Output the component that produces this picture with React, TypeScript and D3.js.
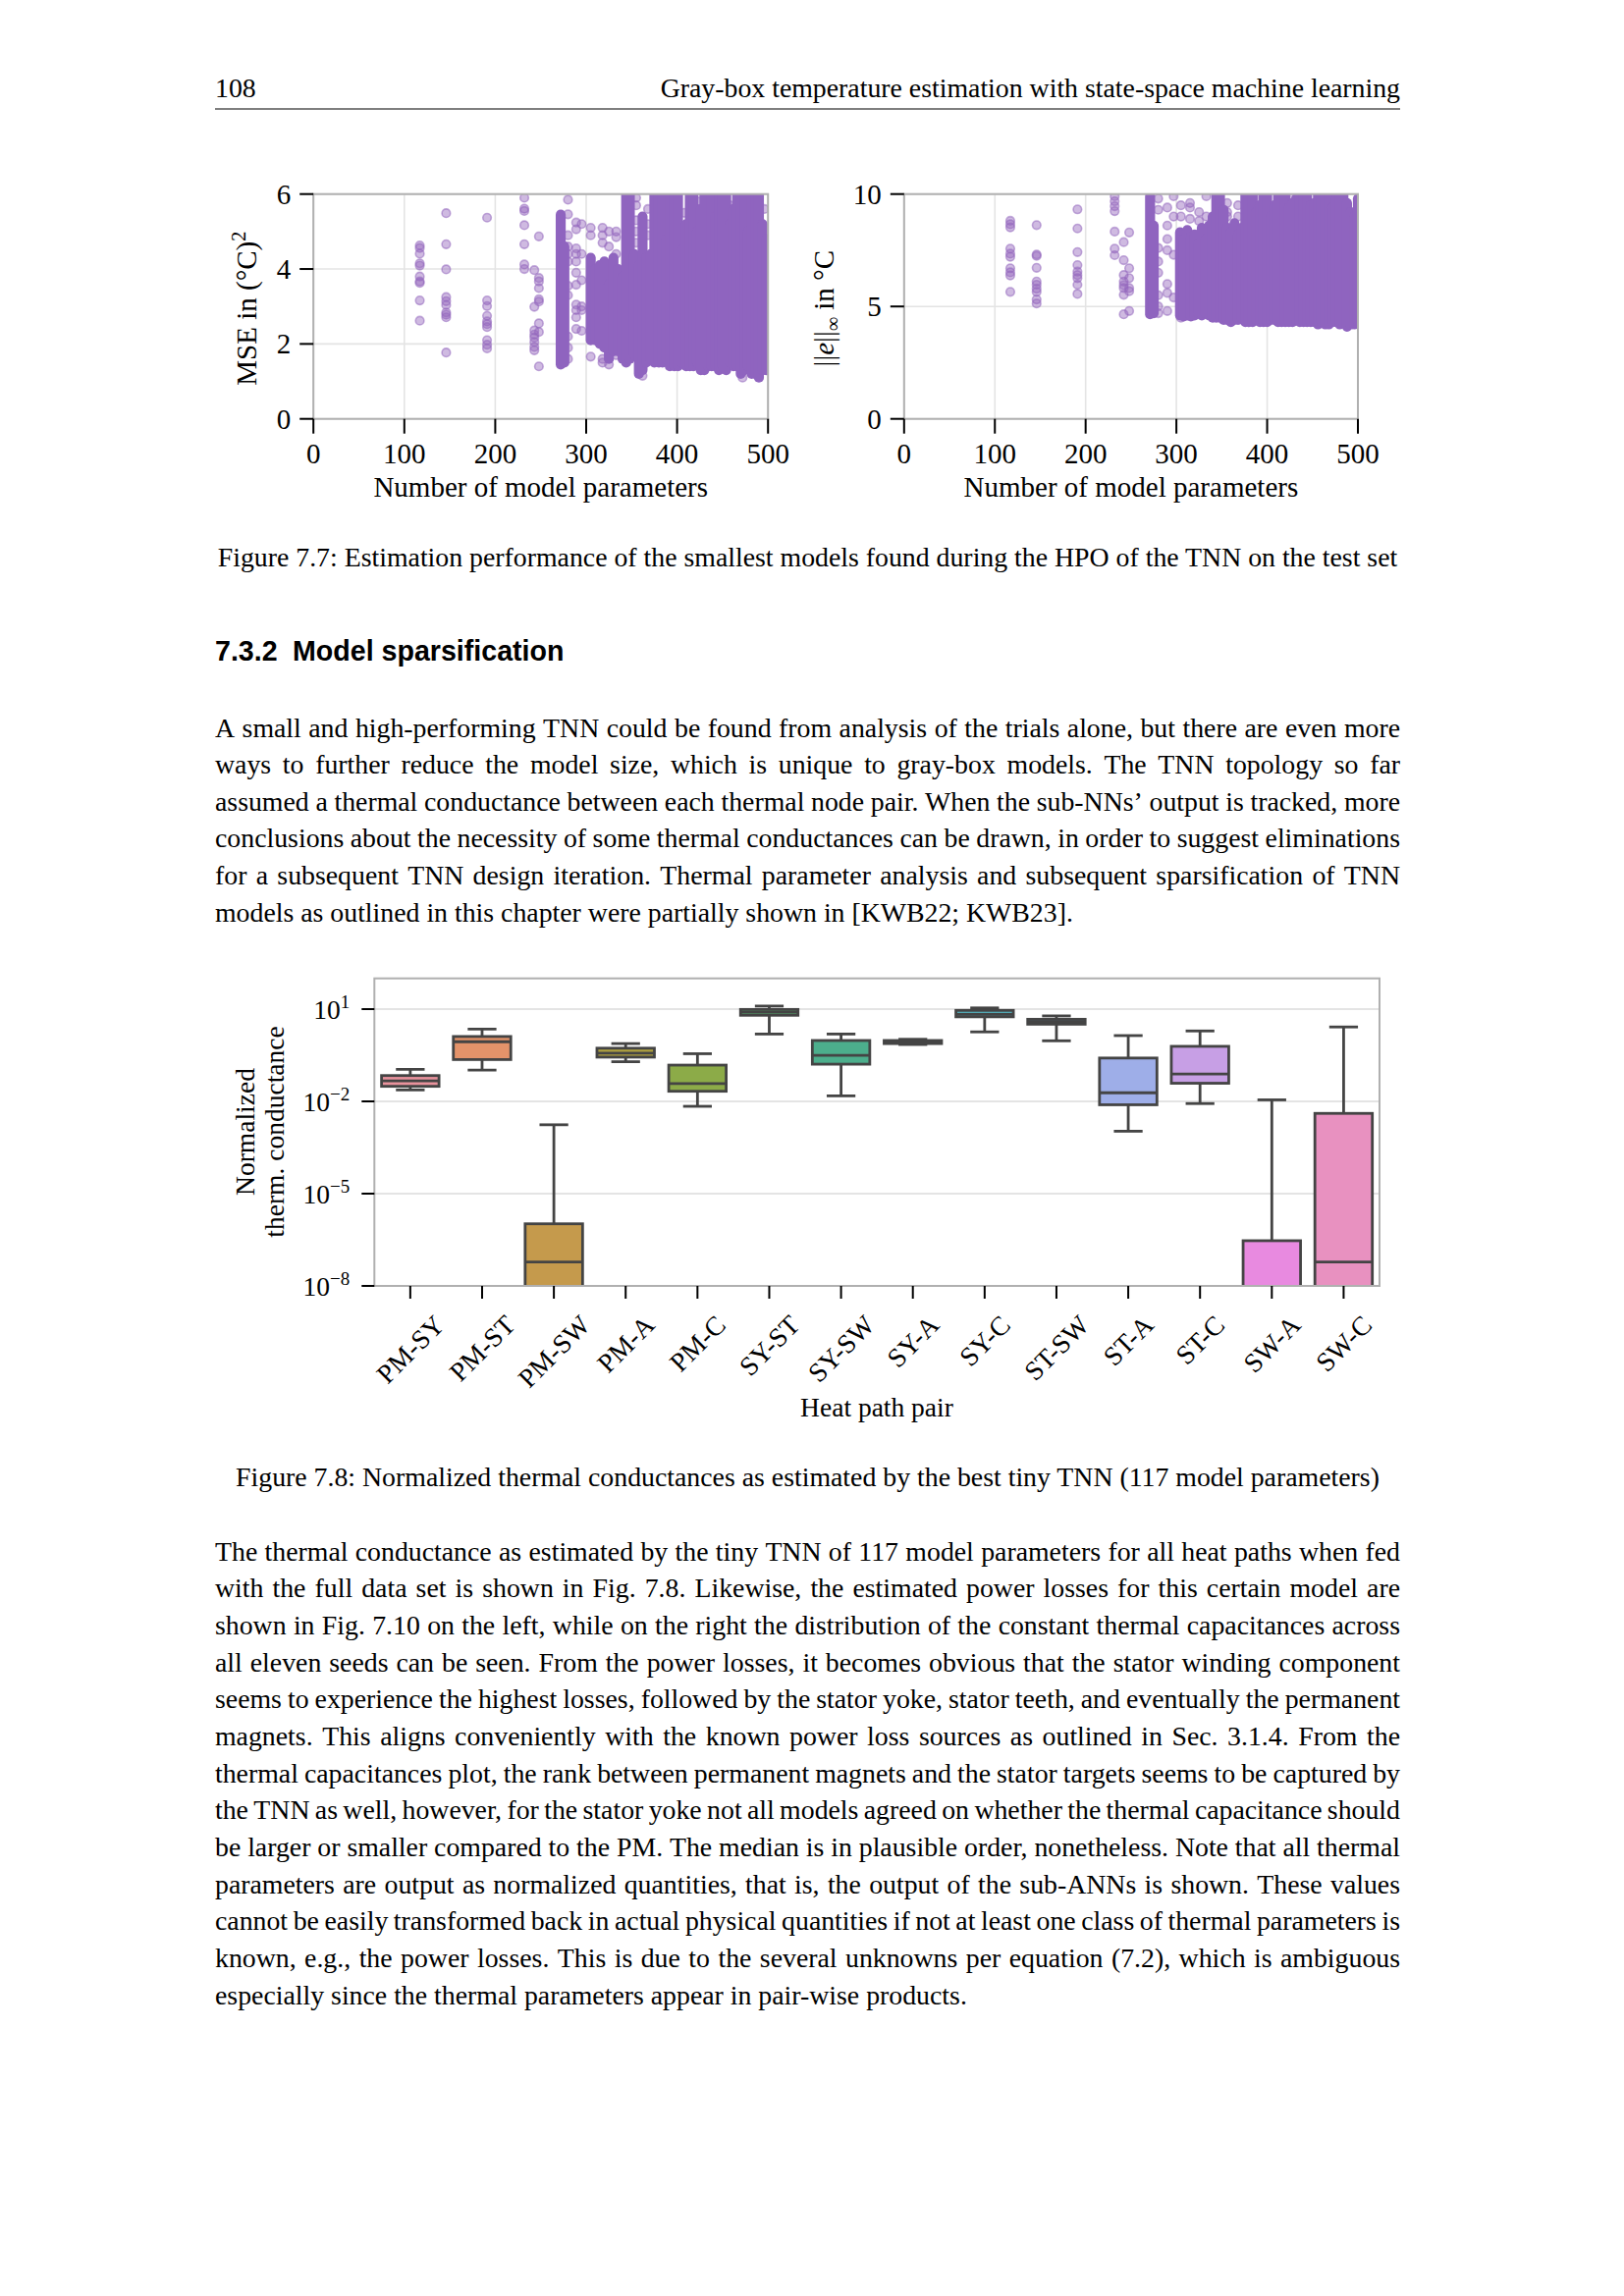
import React from 'react';
import * as d3 from 'd3';

const SERIF = "'Liberation Serif', 'Times New Roman', serif";
const SANS = "'Liberation Sans', Arial, sans-serif";

// ---------- page text ----------
const pageNumber = '108';
const runningHead = 'Gray-box temperature estimation with state-space machine learning';
const caption77 = 'Figure 7.7: Estimation performance of the smallest models found during the HPO of the TNN on the test set';
const sectionNumber = '7.3.2';
const sectionTitle = 'Model sparsification';
const para1 = [
  'A small and high-performing TNN could be found from analysis of the trials alone, but there are even more',
  'ways to further reduce the model size, which is unique to gray-box models. The TNN topology so far',
  'assumed a thermal conductance between each thermal node pair. When the sub-NNs\u2019 output is tracked, more',
  'conclusions about the necessity of some thermal conductances can be drawn, in order to suggest eliminations',
  'for a subsequent TNN design iteration. Thermal parameter analysis and subsequent sparsification of TNN',
  'models as outlined in this chapter were partially shown in [KWB22; KWB23].',
];
const caption78 = 'Figure 7.8: Normalized thermal conductances as estimated by the best tiny TNN (117 model parameters)';
const para2 = [
  'The thermal conductance as estimated by the tiny TNN of 117 model parameters for all heat paths when fed',
  'with the full data set is shown in Fig. 7.8. Likewise, the estimated power losses for this certain model are',
  'shown in Fig. 7.10 on the left, while on the right the distribution of the constant thermal capacitances across',
  'all eleven seeds can be seen. From the power losses, it becomes obvious that the stator winding component',
  'seems to experience the highest losses, followed by the stator yoke, stator teeth, and eventually the permanent',
  'magnets. This aligns conveniently with the known power loss sources as outlined in Sec. 3.1.4. From the',
  'thermal capacitances plot, the rank between permanent magnets and the stator targets seems to be captured by',
  'the TNN as well, however, for the stator yoke not all models agreed on whether the thermal capacitance should',
  'be larger or smaller compared to the PM. The median is in plausible order, nonetheless. Note that all thermal',
  'parameters are output as normalized quantities, that is, the output of the sub-ANNs is shown. These values',
  'cannot be easily transformed back in actual physical quantities if not at least one class of thermal parameters is',
  'known, e.g., the power losses. This is due to the several unknowns per equation (7.2), which is ambiguous',
  'especially since the thermal parameters appear in pair-wise products.',
];

// ---------- scatter data ----------
const xTicks = [0, 100, 200, 300, 400, 500];
const mseTicks = [0, 2, 4, 6];
const einfTicks = [0, 5, 10];

// individual (sparse) points: [number of parameters, values]
const mseSparse: [number, number[]][] = [
  [117, [4.63, 4.56, 4.41, 4.15, 4.09, 3.8, 3.67, 3.63, 3.16, 2.62]],
  [146, [5.49, 4.66, 3.99, 3.25, 3.14, 3.04, 2.84, 2.78, 2.71, 1.77]],
  [191, [5.37, 3.16, 3.01, 2.75, 2.6, 2.53, 2.45, 2.1, 1.98, 1.88]],
  [232, [5.9, 5.61, 5.55, 5.17, 4.66, 4.12, 4.0]],
  [243, [3.97, 2.99, 2.36, 2.25, 2.17, 2.05, 1.92, 1.83]],
  [248, [4.87, 3.76, 3.67, 3.49, 3.19, 3.13, 2.55, 2.32, 1.4]],
  [280, [5.85, 5.46, 4.9, 4.6, 4.4, 4.2, 3.55, 3.3, 2.2, 1.9, 1.6]],
  [289, [5.24, 5.06, 4.55, 4.4, 4.2, 3.9, 3.58, 3.05, 2.9, 2.71, 2.4]],
  [295, [5.2, 4.4, 3.7, 3.0, 2.9, 2.35]],
  [305, [5.1, 4.9, 1.66]],
  [318, [5.1, 4.9, 4.7, 1.6, 1.5]],
  [325, [5.0, 4.6, 1.45]],
  [333, [5.0, 4.85, 4.4, 1.7]],
  [355, [5.9, 5.7, 5.3, 5.0, 4.7]],
  [362, [1.15]],
  [368, [5.6, 5.2, 4.9]],
  [387, [5.8, 5.3]],
  [408, [5.5, 5.1]],
  [423, [5.8, 5.3]],
  [440, [5.7]],
  [458, [5.7, 5.4]],
  [472, [1.1]],
  [478, [5.6]],
  [496, [5.6]],
];
// densely overplotted columns: [number of parameters, lowest, highest]
const mseDense: [number, number, number][] = [
  [272, 1.45, 5.45], [276, 1.5, 4.6],
  [305, 2.1, 4.3], [310, 2.1, 4.0], [315, 2.0, 4.1], [320, 1.9, 4.2], [325, 1.6, 3.6],
  [330, 1.8, 4.3], [335, 1.8, 4.0], [340, 1.6, 3.8], [344, 1.5, 6.0], [348, 1.6, 6.0],
  [353, 1.7, 4.4], [358, 1.2, 4.1], [362, 1.3, 5.4], [366, 1.5, 4.3], [371, 1.6, 4.4],
  [375, 1.5, 6.0], [380, 1.5, 6.0], [384, 1.5, 6.0], [388, 1.6, 4.8], [392, 1.4, 6.0],
  [397, 1.4, 6.0], [401, 1.4, 6.0], [405, 1.5, 4.5], [410, 1.4, 5.2], [414, 1.4, 6.0],
  [418, 1.4, 6.0], [422, 1.5, 5.0], [426, 1.3, 5.6], [430, 1.3, 6.0], [434, 1.4, 6.0],
  [438, 1.4, 6.0], [442, 1.4, 5.4], [446, 1.3, 6.0], [450, 1.4, 6.0], [454, 1.3, 6.0],
  [458, 1.5, 5.2], [462, 1.4, 5.6], [466, 1.4, 6.0], [470, 1.2, 6.0], [474, 1.3, 6.0],
  [478, 1.4, 5.0], [482, 1.2, 6.0], [486, 1.2, 6.0], [490, 1.1, 6.0], [494, 1.3, 5.2],
  [498, 1.3, 4.8],
];

const einfSparse: [number, number[]][] = [
  [117, [8.81, 8.66, 8.52, 7.57, 7.35, 7.21, 6.7, 6.52, 6.38, 5.65]],
  [146, [8.62, 7.31, 7.25, 6.72, 6.11, 5.97, 5.79, 5.65, 5.31, 5.13]],
  [191, [9.32, 8.47, 7.42, 6.84, 6.55, 6.4, 6.26, 5.97, 5.56]],
  [232, [9.9, 9.68, 9.46, 9.24, 8.33, 7.57, 7.28]],
  [242, [7.86, 7.06, 6.4, 6.11, 5.95, 5.82, 5.52, 4.65]],
  [248, [8.29, 6.7, 6.26, 5.82, 5.68, 4.8]],
  [280, [9.8, 9.3, 7.6, 7.0, 6.5, 5.5, 5.0, 4.7]],
  [290, [9.4, 8.6, 8.0, 7.5, 6.0, 5.6, 4.8]],
  [297, [9.9, 9.0, 7.3, 5.4]],
  [305, [9.5, 9.0, 4.5]],
  [315, [9.6, 9.4, 8.9]],
  [325, [9.2, 8.8]],
  [333, [9.9, 9.0]],
  [356, [9.6, 9.2, 9.0]],
  [368, [9.5, 9.0]],
  [390, [9.8]],
  [426, [9.9]],
  [474, [9.8]],
];
const einfDense: [number, number, number][] = [
  [271, 4.65, 9.9], [275, 4.7, 8.6],
  [304, 4.6, 8.3], [308, 4.55, 8.0], [312, 4.6, 8.4], [316, 4.55, 8.1], [320, 4.6, 8.2],
  [324, 4.7, 7.8], [328, 4.6, 8.5], [332, 4.7, 8.0], [336, 4.6, 8.6], [340, 4.5, 9.0],
  [344, 4.5, 10], [348, 4.5, 10], [352, 4.4, 9.3], [356, 4.4, 8.5], [360, 4.3, 8.3],
  [364, 4.4, 8.7], [368, 4.4, 8.2], [372, 4.5, 8.5], [376, 4.3, 10], [380, 4.3, 10],
  [384, 4.3, 10], [388, 4.4, 9.2], [392, 4.3, 9.5], [396, 4.3, 10], [400, 4.3, 10],
  [404, 4.4, 9.0], [408, 4.4, 9.5], [412, 4.3, 10], [416, 4.3, 10], [420, 4.3, 10],
  [424, 4.3, 9.4], [428, 4.3, 9.6], [432, 4.4, 9.8], [436, 4.3, 10], [440, 4.3, 10],
  [444, 4.3, 10], [448, 4.3, 9.5], [452, 4.3, 9.6], [456, 4.2, 10], [460, 4.3, 10],
  [464, 4.2, 10], [468, 4.2, 10], [472, 4.3, 9.4], [476, 4.3, 9.8], [480, 4.2, 10],
  [484, 4.3, 10], [488, 4.1, 9.6], [492, 4.2, 9.2], [496, 4.2, 9.0], [500, 4.3, 9.8],
];

// ---------- box plot data (log10 of normalized conductance) ----------
const categories = ['PM-SY', 'PM-ST', 'PM-SW', 'PM-A', 'PM-C', 'SY-ST', 'SY-SW', 'SY-A', 'SY-C', 'ST-SW', 'ST-A', 'ST-C', 'SW-A', 'SW-C'];
const whiskerLowLog = [-1.63, -0.98, -11, -0.71, -2.16, 0.19, -1.82, -0.15, 0.26, -0.03, -2.97, -2.07, -11, -11];
const q1Log = [-1.51, -0.64, -10, -0.56, -1.67, 0.8, -0.79, -0.12, 0.75, 0.51, -2.11, -1.41, -10, -10];
const medianLog = [-1.33, -0.06, -7.22, -0.43, -1.42, 0.9, -0.5, -0.07, 0.83, 0.6, -1.72, -1.11, -9, -7.22];
const q3Log = [-1.16, 0.11, -5.98, -0.27, -0.82, 0.99, -0.02, -0.02, 0.96, 0.67, -0.59, -0.21, -6.53, -2.39];
const whiskerHighLog = [-0.96, 0.35, -2.76, -0.12, -0.45, 1.1, 0.19, 0.02, 1.04, 0.78, 0.14, 0.29, -1.95, 0.42];
const boxColors = ['#e8929c', '#e4936a', '#c59a4c', '#b0a23f', '#8cab48', '#55b06c', '#4cae8c', '#4eab9f', '#52a8b3', '#58a3c6', '#9eaee8', '#c79fe5', '#e88ae0', '#e891c0'];
const boxYTicks = [1e1, 1e-2, 1e-5, 1e-8];
const boxYTickExp = ['1', '\u22122', '\u22125', '\u22128'];

// ---------- helpers ----------
let _ctx: CanvasRenderingContext2D | null = null;
function measure(text: string, font: string): number {
  if (!_ctx) _ctx = document.createElement('canvas').getContext('2d');
  _ctx!.font = font;
  return _ctx!.measureText(text).width;
}

const BODY = 27.8;
const LEFT = 219;
const RIGHT = 1426;
const LINE = 37.65;

function TextLine({ text, x, y, width, justify, size = BODY, family = SERIF, fontFamilyCanvas = "'Liberation Serif'", weight = 'normal' }: any) {
  const font = `${weight} ${size}px ${fontFamilyCanvas}`;
  const words = text.split(' ');
  const ww = words.map((w: string) => measure(w, font));
  const sw = measure(' ', font);
  const total = ww.reduce((a: number, b: number) => a + b, 0);
  const gap = justify && words.length > 1 ? (width - total) / (words.length - 1) : sw;
  let cx = x;
  const spans = words.map((w: string, i: number) => {
    const sx = cx;
    cx += ww[i] + gap;
    return <tspan key={i} x={sx}>{w}</tspan>;
  });
  return <text y={y} fontFamily={family} fontSize={size} fontWeight={weight} fill="#000">{spans}</text>;
}

function Paragraph({ lines, y0 }: { lines: string[]; y0: number }) {
  return (
    <g>
      {lines.map((l, i) => (
        <TextLine key={i} text={l} x={LEFT} y={y0 + i * LINE} width={RIGHT - LEFT} justify={i < lines.length - 1} />
      ))}
    </g>
  );
}

const SPINE = '#b0b0b0';
const GRID = '#e4e4e4';
const PURPLE = '#9467bd';

function Scatter({ id, left, right, top, bottom, yMax, yTicks, sparse, dense, yLabel, yLabelX }: any) {
  const x = d3.scaleLinear().domain([0, 500]).range([left, right]);
  const y = d3.scaleLinear().domain([0, yMax]).range([bottom, top]);
  const r = 4.3;
  const cx = (left + right) / 2;
  return (
    <g>
      <defs>
        <clipPath id={id}>
          <rect x={left} y={top} width={right - left} height={bottom - top} />
        </clipPath>
      </defs>
      {xTicks.map((t) => (
        <line key={'gx' + t} x1={x(t)} x2={x(t)} y1={top} y2={bottom} stroke={GRID} strokeWidth={1.6} />
      ))}
      {yTicks.map((t: number) => (
        <line key={'gy' + t} x1={left} x2={right} y1={y(t)} y2={y(t)} stroke={GRID} strokeWidth={1.6} />
      ))}
      <g clipPath={`url(#${id})`}>
        {sparse.map(([p, vals]: [number, number[]]) =>
          vals.map((v, j) => (
            <circle key={p + '-' + j} cx={x(p)} cy={y(v)} r={r} fill={PURPLE} fillOpacity={0.45} stroke={PURPLE} strokeOpacity={0.55} strokeWidth={1.6} />
          ))
        )}
        {dense.map(([p, lo, hi]: [number, number, number]) => (
          <line key={'d' + p} x1={x(p)} x2={x(p)} y1={y(lo)} y2={y(hi)} stroke="#8f64bf" strokeWidth={2 * r + 1.6} strokeLinecap="round" />
        ))}
      </g>
      <rect x={left} y={top} width={right - left} height={bottom - top} fill="none" stroke={SPINE} strokeWidth={2} />
      {xTicks.map((t) => (
        <g key={'tx' + t}>
          <line x1={x(t)} x2={x(t)} y1={bottom} y2={bottom + 15} stroke="#000" strokeWidth={2} />
          <text x={x(t)} y={bottom + 45} textAnchor="middle" fontFamily={SERIF} fontSize={29}>{t}</text>
        </g>
      ))}
      {yTicks.map((t: number) => (
        <g key={'ty' + t}>
          <line x1={left - 14} x2={left} y1={y(t)} y2={y(t)} stroke="#000" strokeWidth={2} />
          <text x={left - 23} y={y(t) + 10} textAnchor="end" fontFamily={SERIF} fontSize={29}>{t}</text>
        </g>
      ))}
      <text x={cx} y={bottom + 79} textAnchor="middle" fontFamily={SERIF} fontSize={29}>Number of model parameters</text>
      <g transform={`translate(${yLabelX},${(top + bottom) / 2 + 2}) rotate(-90)`}>{yLabel}</g>
    </g>
  );
}

function BoxPlot() {
  const left = 381.3, right = 1405, top = 996.7, bottom = 1310;
  const x = d3.scaleBand().domain(categories).range([left, right]).paddingInner(0).paddingOuter(0);
  const y = d3.scaleLog().domain([1e-8, 1e2]).range([bottom, top]);
  const step = x.step();
  const bw = step * 0.8;
  const capW = bw * 0.5;
  const LC = '#444444';
  const fs = 27.5;
  const labelTop = bottom + 26;
  const SW = 2.8;
  return (
    <g>
      <defs>
        <clipPath id="boxclip">
          <rect x={left} y={top} width={right - left} height={bottom - top} />
        </clipPath>
      </defs>
      {boxYTicks.map((t) => (
        <line key={'g' + t} x1={left} x2={right} y1={y(t)} y2={y(t)} stroke={GRID} strokeWidth={2} />
      ))}
      <g clipPath="url(#boxclip)">
        {categories.map((c, i) => {
          const cx = (x(c) as number) + step / 2;
          const yq1 = y(Math.pow(10, q1Log[i]));
          const yq3 = y(Math.pow(10, q3Log[i]));
          const ymed = y(Math.pow(10, medianLog[i]));
          const ylo = y(Math.pow(10, whiskerLowLog[i]));
          const yhi = y(Math.pow(10, whiskerHighLog[i]));
          return (
            <g key={c}>
              <line x1={cx} x2={cx} y1={yq3} y2={yhi} stroke={LC} strokeWidth={SW} />
              <line x1={cx} x2={cx} y1={yq1} y2={ylo} stroke={LC} strokeWidth={SW} />
              <line x1={cx - capW / 2} x2={cx + capW / 2} y1={yhi} y2={yhi} stroke={LC} strokeWidth={SW} />
              <line x1={cx - capW / 2} x2={cx + capW / 2} y1={ylo} y2={ylo} stroke={LC} strokeWidth={SW} />
              <rect x={cx - bw / 2} y={yq3} width={bw} height={Math.max(0, yq1 - yq3)} fill={boxColors[i]} stroke={LC} strokeWidth={SW} />
              <line x1={cx - bw / 2} x2={cx + bw / 2} y1={ymed} y2={ymed} stroke={LC} strokeWidth={SW} />
            </g>
          );
        })}
      </g>
      <rect x={left} y={top} width={right - left} height={bottom - top} fill="none" stroke={SPINE} strokeWidth={2} />
      {boxYTicks.map((t, i) => (
        <g key={'t' + t}>
          <line x1={left - 13} x2={left} y1={y(t)} y2={y(t)} stroke="#000" strokeWidth={2} />
          <text x={left - 25} y={y(t) + 9.5} textAnchor="end" fontFamily={SERIF} fontSize={fs}>
            10<tspan dy={-11} fontSize={19}>{boxYTickExp[i]}</tspan>
          </text>
        </g>
      ))}
      {categories.map((c) => {
        const cx = (x(c) as number) + step / 2;
        const w = measure(c, `${fs}px 'Liberation Serif'`);
        const h = fs * 0.9;
        const cy = labelTop + (w + h) / (2 * Math.SQRT2);
        return (
          <g key={'x' + c}>
            <line x1={cx} x2={cx} y1={bottom} y2={bottom + 13} stroke="#000" strokeWidth={2} />
            <text x={cx} y={cy} transform={`rotate(-45 ${cx} ${cy})`} textAnchor="middle" dominantBaseline="central" fontFamily={SERIF} fontSize={fs}>{c}</text>
          </g>
        );
      })}
      <text x={893} y={1443} textAnchor="middle" fontFamily={SERIF} fontSize={fs}>Heat path pair</text>
      <g transform={`translate(259,1153) rotate(-90)`}>
        <text x={0} y={0} textAnchor="middle" fontFamily={SERIF} fontSize={fs}>Normalized</text>
      </g>
      <g transform={`translate(288.5,1153) rotate(-90)`}>
        <text x={0} y={0} textAnchor="middle" fontFamily={SERIF} fontSize={fs}>therm. conductance</text>
      </g>
    </g>
  );
}

export default function App() {
  const mseLabel = (
    <text x={0} y={0} textAnchor="middle" fontFamily={SERIF} fontSize={29}>
      MSE in (°C)<tspan dy={-11} fontSize={20}>2</tspan>
    </text>
  );
  const einfLabel = (
    <text x={0} y={0} textAnchor="middle" fontFamily={SERIF} fontSize={29}>
      ||<tspan fontStyle="italic">e</tspan>||<tspan dy={6} fontSize={20}>∞</tspan><tspan dy={-6}> in °C</tspan>
    </text>
  );
  return (
    <svg width={1654} height={2339} viewBox="0 0 1654 2339" style={{ position: 'absolute', left: 0, top: 0, background: '#fff' }}>
      <rect x={0} y={0} width={1654} height={2339} fill="#fff" />
      {/* running head */}
      <text x={LEFT} y={99} fontFamily={SERIF} fontSize={BODY}>{pageNumber}</text>
      <text x={RIGHT} y={99} textAnchor="end" fontFamily={SERIF} fontSize={BODY}>{runningHead}</text>
      <line x1={LEFT} x2={RIGHT} y1={111} y2={111} stroke="#000" strokeWidth={1.2} />

      {/* Figure 7.7 */}
      <Scatter id="sc1" left={319.2} right={782.2} top={197.7} bottom={426.7} yMax={6} yTicks={mseTicks}
        sparse={mseSparse} dense={mseDense} yLabel={mseLabel} yLabelX={261} />
      <Scatter id="sc2" left={920.8} right={1383} top={197.7} bottom={426.7} yMax={10} yTicks={einfTicks}
        sparse={einfSparse} dense={einfDense} yLabel={einfLabel} yLabelX={849} />
      <text x={822.5} y={577} textAnchor="middle" fontFamily={SERIF} fontSize={BODY}>{caption77}</text>

      {/* Section heading */}
      <text x={LEFT} y={673} fontFamily={SANS} fontSize={28.6} fontWeight="bold">{sectionNumber}</text>
      <text x={298} y={673} fontFamily={SANS} fontSize={28.6} fontWeight="bold">{sectionTitle}</text>

      <Paragraph lines={para1} y0={750.5} />

      {/* Figure 7.8 */}
      <BoxPlot />
      <text x={822.5} y={1513.5} textAnchor="middle" fontFamily={SERIF} fontSize={BODY}>{caption78}</text>

      <Paragraph lines={para2} y0={1589.7} />
    </svg>
  );
}
